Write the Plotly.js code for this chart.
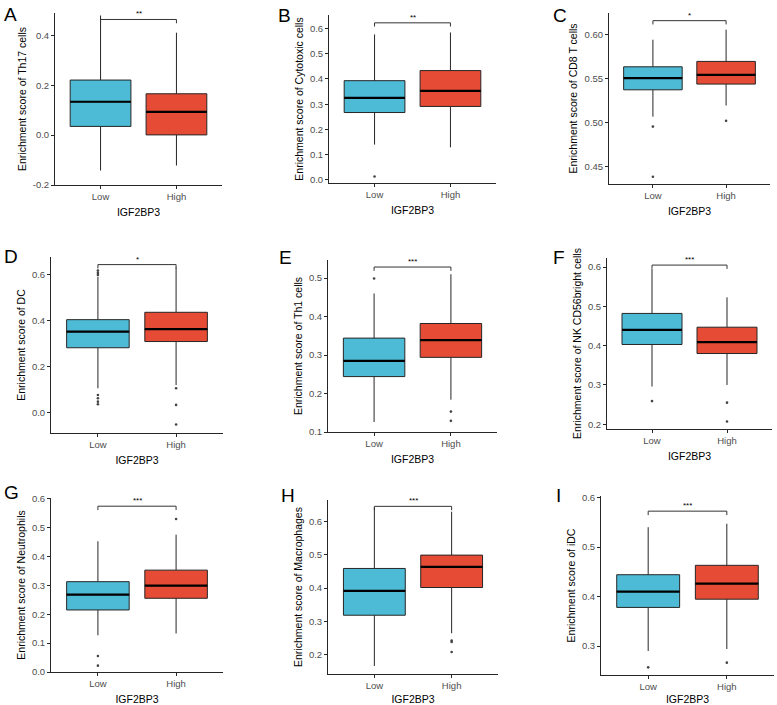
<!DOCTYPE html>
<html>
<head>
<meta charset="utf-8">
<script src="https://cdn.plot.ly/plotly-3.0.1.min.js"></script>
<style>html,body{margin:0;padding:0;background:#fff;}#chart{width:777px;height:705px;}</style>
</head>
<body>
<div id="chart"></div>
<script>
// ---- data ----
const panelLetters = ['A','B','C','D','E','F','G','H','I'];
const groups = ['Low','High'];
const yTitles = [
  'Enrichment score of Th17 cells',
  'Enrichment score of Cytotoxic cells',
  'Enrichment score of CD8 T cells',
  'Enrichment score of DC',
  'Enrichment score of Th1 cells',
  'Enrichment score of NK CD56bright cells',
  'Enrichment score of Neutrophils',
  'Enrichment score of Macrophages',
  'Enrichment score of iDC'
];
// [lower whisker, Q1, median, Q3, upper whisker]
const lowStats = [
  [-0.142, 0.035, 0.134, 0.221, 0.48],
  [0.14, 0.267, 0.325, 0.393, 0.576],
  [0.507, 0.5375, 0.5508, 0.5636, 0.5943],
  [0.106, 0.282, 0.352, 0.404, 0.59],
  [0.126, 0.244, 0.285, 0.344, 0.46],
  [0.296, 0.403, 0.44, 0.482, 0.595],
  [0.127, 0.215, 0.268, 0.313, 0.453],
  [0.167, 0.319, 0.392, 0.459, 0.642],
  [0.29, 0.378, 0.41, 0.444, 0.54]
];
const highStats = [
  [-0.122, 0.001, 0.093, 0.166, 0.411],
  [0.129, 0.291, 0.353, 0.433, 0.584],
  [0.5197, 0.544, 0.5545, 0.5697, 0.6057],
  [0.12, 0.309, 0.3625, 0.436, 0.63],
  [0.184, 0.294, 0.339, 0.382, 0.51],
  [0.3, 0.38, 0.409, 0.447, 0.523],
  [0.1335, 0.2555, 0.299, 0.353, 0.476],
  [0.265, 0.402, 0.464, 0.499, 0.629],
  [0.294, 0.3946, 0.426, 0.463, 0.547]
];
const lowOutliers = [
  [], [0.014], [0.4958, 0.439],
  [0.598, 0.607, 0.617, 0.077, 0.063, 0.048, 0.037],
  [0.499], [0.259], [0.0555, 0.022], [], [0.257]
];
const highOutliers = [
  [], [], [0.5023], [0.106, 0.034, -0.051],
  [0.153, 0.129], [0.255, 0.207], [0.530], [0.243, 0.239, 0.209], [0.2664]
];
const sigLabels = ['**','**','*','*','***','***','***','***','***'];
const bracketY = [0.464, 0.622, 0.6159, 0.643, 0.5287, 0.605, 0.5746, 0.645, 0.5724];
const yTicks = [
  [-0.2, 0.0, 0.2, 0.4],
  [0.0, 0.1, 0.2, 0.3, 0.4, 0.5, 0.6],
  [0.45, 0.50, 0.55, 0.60],
  [0.0, 0.2, 0.4, 0.6],
  [0.1, 0.2, 0.3, 0.4, 0.5],
  [0.2, 0.3, 0.4, 0.5, 0.6],
  [0.0, 0.1, 0.2, 0.3, 0.4, 0.5, 0.6],
  [0.2, 0.3, 0.4, 0.5, 0.6],
  [0.3, 0.4, 0.5, 0.6]
];
const tickDecimals = [1,1,2,1,1,1,1,1,1];

// ---- layout geometry (pixels in a 777x705 canvas) ----
const W = 777, H = 705;
const plotBoxes = [ // [x0, x1, y0(top), y1(bottom)]
  [55, 222, 13, 185],
  [329, 496, 15, 183],
  [609, 770, 13, 184],
  [51, 223, 257, 433],
  [328, 497, 260, 432],
  [607, 772, 258, 429],
  [51, 223, 498, 672],
  [328, 498, 500, 674],
  [601, 774, 496, 675]
];
const yRanges = [
  [-0.2, 0.49], [-0.012, 0.653], [0.4307, 0.6246],
  [-0.088, 0.676], [0.1, 0.547], [0.188, 0.623],
  [0.0, 0.603], [0.143, 0.664], [0.2415, 0.603]
];
const letterPos = [[2,2],[276,3],[551,3],[2,244],[277,245],[551,245],[2,480],[279,483],[554,483]];

const lowColor = '#4DBBD5', highColor = '#E64B35', lineCol = '#262626';
const FONT = 'Liberation Sans, Arial, Helvetica, sans-serif';
const boxW = 0.8;

const traces = [];
const layout = {
  width: W, height: H,
  margin: {l:0, r:0, t:0, b:0},
  paper_bgcolor: '#fff', plot_bgcolor: '#fff',
  showlegend: false,
  font: {family: FONT, color: '#000'},
  annotations: []
};

for (let i = 0; i < 9; i++) {
  const sfx = i === 0 ? '' : String(i + 1);
  const xa = 'x' + sfx, ya = 'y' + sfx;
  const [px0, px1, py0, py1] = plotBoxes[i];
  const stats = [lowStats[i], highStats[i]];
  const outs = [lowOutliers[i], highOutliers[i]];
  const fills = [lowColor, highColor];

  stats.forEach((s, g) => {
    traces.push({
      type: 'box', x: [g], xaxis: xa, yaxis: ya,
      lowerfence: [s[0]], q1: [s[1]], median: [s[2]], q3: [s[3]], upperfence: [s[4]],
      width: boxW, whiskerwidth: 0, boxpoints: false,
      fillcolor: fills[g], line: {color: lineCol, width: 1},
      hoverinfo: 'skip', showlegend: false
    });
    // thick median bar
    traces.push({
      type: 'scatter', mode: 'lines', xaxis: xa, yaxis: ya,
      x: [g - boxW / 2, g + boxW / 2], y: [s[2], s[2]],
      line: {color: '#000', width: 2.2}, hoverinfo: 'skip', showlegend: false
    });
    if (outs[g].length) {
      traces.push({
        type: 'scatter', mode: 'markers', xaxis: xa, yaxis: ya,
        x: outs[g].map(() => g), y: outs[g],
        marker: {color: '#444', size: 2.6}, hoverinfo: 'skip', showlegend: false
      });
    }
  });

  // significance bracket
  const span = yRanges[i][1] - yRanges[i][0];
  const drop = span * 0.022;
  const b = bracketY[i];
  traces.push({
    type: 'scatter', mode: 'lines', xaxis: xa, yaxis: ya,
    x: [0, 0, 1, 1], y: [b - drop, b, b, b - drop],
    line: {color: '#333', width: 1}, hoverinfo: 'skip', showlegend: false
  });
  layout.annotations.push({
    xref: xa, yref: ya, x: 0.5, y: b, text: sigLabels[i], showarrow: false,
    yanchor: 'bottom', yshift: -1, font: {family: FONT, size: 8, color: '#000'}
  });

  // panel letter
  layout.annotations.push({
    xref: 'paper', yref: 'paper', x: letterPos[i][0] / W, y: 1 - letterPos[i][1] / H,
    xanchor: 'left', yanchor: 'top', text: panelLetters[i], showarrow: false,
    font: {family: FONT, size: 19, color: '#000'}
  });

  const axBase = {
    showline: true, linecolor: lineCol, linewidth: 1,
    ticks: 'outside', ticklen: 3, tickwidth: 1, tickcolor: lineCol,
    showgrid: false, zeroline: false, fixedrange: true,
    tickfont: {family: FONT, size: 9.5, color: '#4d4d4d'}
  };
  layout['xaxis' + sfx] = Object.assign({}, axBase, {
    domain: [px0 / W, px1 / W], anchor: ya,
    range: [-0.6, 1.6], tickvals: [0, 1], ticktext: groups,
    title: {text: 'IGF2BP3', font: {family: FONT, size: 10.5, color: '#000'}, standoff: 7}
  });
  layout['yaxis' + sfx] = Object.assign({}, axBase, {
    domain: [1 - py1 / H, 1 - py0 / H], anchor: xa,
    range: yRanges[i], tickvals: yTicks[i],
    ticktext: yTicks[i].map(v => v.toFixed(tickDecimals[i])),
    title: {text: yTitles[i], font: {family: FONT, size: 10.5, color: '#000'}, standoff: 4}
  });
}

Plotly.newPlot('chart', traces, layout, {staticPlot: true, displayModeBar: false});
</script>
</body>
</html>
